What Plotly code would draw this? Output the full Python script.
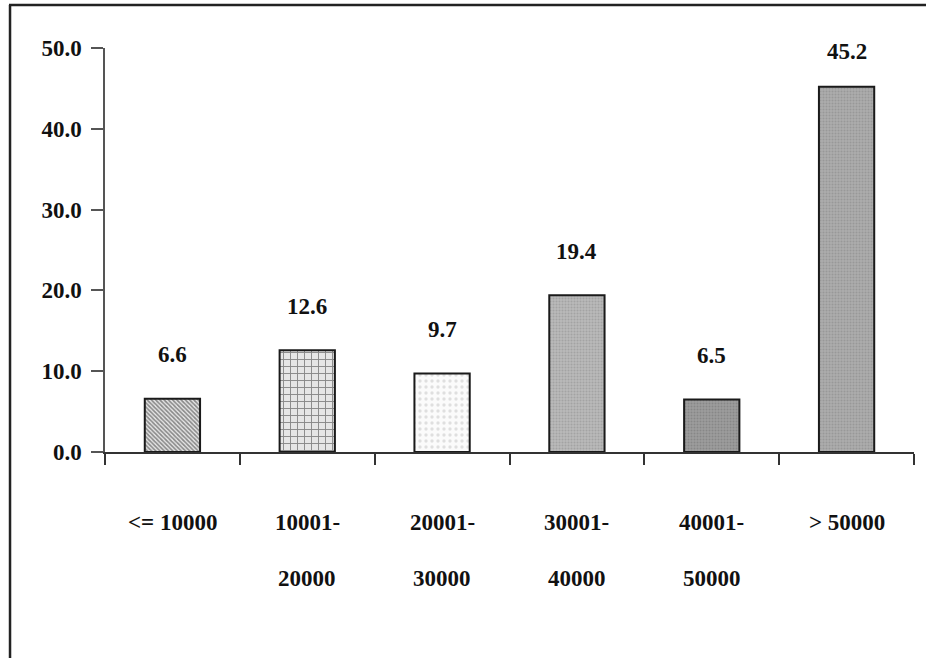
import plotly.graph_objects as go

# Income groups (baht per month) and share of respondents (%)
categories = ["<= 10000", "10001-20000", "20001-30000", "30001-40000", "40001-50000", "> 50000"]
label_line1 = ["<= 10000", "10001-", "20001-", "30001-", "40001-", "> 50000"]
label_line2 = ["", "20000", "30000", "40000", "50000", ""]
percent = [6.6, 12.6, 9.7, 19.4, 6.5, 45.2]
y_ticks = [0, 10, 20, 30, 40, 50]

# Fill styles per bar
pattern_shapes = ["\\", "+", ".", ".", ".", "."]
fill_colors = ["#e8e8e8", "#e6e6e6", "#fbfbfb", "#b9b9b9", "#9c9c9c", "#acacac"]
pattern_fg = ["#2a2a2a", "#2a2a2a", "#c4c4c4", "#8e8e8e", "#727272", "#838383"]
pattern_size = [3, 7, 6, 3, 3, 3]
pattern_solid = [0.55, 0.25, 0.25, 0.35, 0.35, 0.35]

FONT = "Times New Roman, Liberation Serif, serif"

fig = go.Figure()
for i, (cat, val) in enumerate(zip(categories, percent)):
    fig.add_trace(go.Bar(
        x=[cat],
        y=[val],
        width=0.41,
        marker=dict(
            color=fill_colors[i],
            line=dict(color="#1a1a1a", width=2),
            pattern=dict(
                shape=pattern_shapes[i],
                fgcolor=pattern_fg[i],
                size=pattern_size[i],
                solidity=pattern_solid[i],
                fillmode="overlay",
            ),
        ),
        hoverinfo="x+y",
        showlegend=False,
    ))

# Value labels above the bars
for cat, val in zip(categories, percent):
    fig.add_annotation(
        x=cat, y=val, xref="x", yref="y",
        text=f"<b>{val:.1f}</b>",
        showarrow=False,
        yshift=44 if val < 40 else 35,
        font=dict(family=FONT, size=23, color="#111111"),
    )

# Two-line category labels below the axis
for cat, l1, l2 in zip(categories, label_line1, label_line2):
    fig.add_annotation(
        x=cat, y=0, xref="x", yref="y", text=f"<b>{l1}</b>",
        showarrow=False, yshift=-70,
        font=dict(family=FONT, size=23, color="#111111"),
    )
    if l2:
        fig.add_annotation(
            x=cat, y=0, xref="x", yref="y", text=f"<b>{l2}</b>",
            showarrow=False, yshift=-126,
            font=dict(family=FONT, size=23, color="#111111"),
        )

# Outer frame: top and left edges
fig.add_shape(type="line", xref="paper", yref="paper",
              x0=-0.1187, x1=1.02, y0=1.1064, y1=1.1064,
              line=dict(color="#222222", width=2.5))
fig.add_shape(type="line", xref="paper", yref="paper",
              x0=-0.1174, x1=-0.1174, y0=1.1064, y1=-0.52,
              line=dict(color="#222222", width=2.5))

fig.update_layout(
    width=926, height=658,
    margin=dict(l=105, r=12, t=48, b=206),
    paper_bgcolor="white",
    plot_bgcolor="white",
    font=dict(family=FONT, color="#111111"),
    barmode="overlay",
)
fig.update_xaxes(
    type="category",
    categoryorder="array", categoryarray=categories,
    showticklabels=False,
    showline=True, linecolor="#333333", linewidth=1.5,
    ticks="outside", tickson="boundaries", ticklen=11, tickcolor="#333333", tickwidth=1.5,
    showgrid=False, zeroline=False,
    range=[-0.5, 5.5],
)
fig.update_yaxes(
    range=[0, 50],
    tickvals=y_ticks,
    ticktext=[f"<b>{v:.1f}</b>" for v in y_ticks],
    tickfont=dict(family=FONT, size=23, color="#111111"),
    showline=True, linecolor="#555555", linewidth=1.5,
    ticks="outside", ticklen=12, tickcolor="#555555", tickwidth=1.5,
    ticklabelstandoff=5,
    showgrid=False, zeroline=False,
)

fig.write_html("out.html")
